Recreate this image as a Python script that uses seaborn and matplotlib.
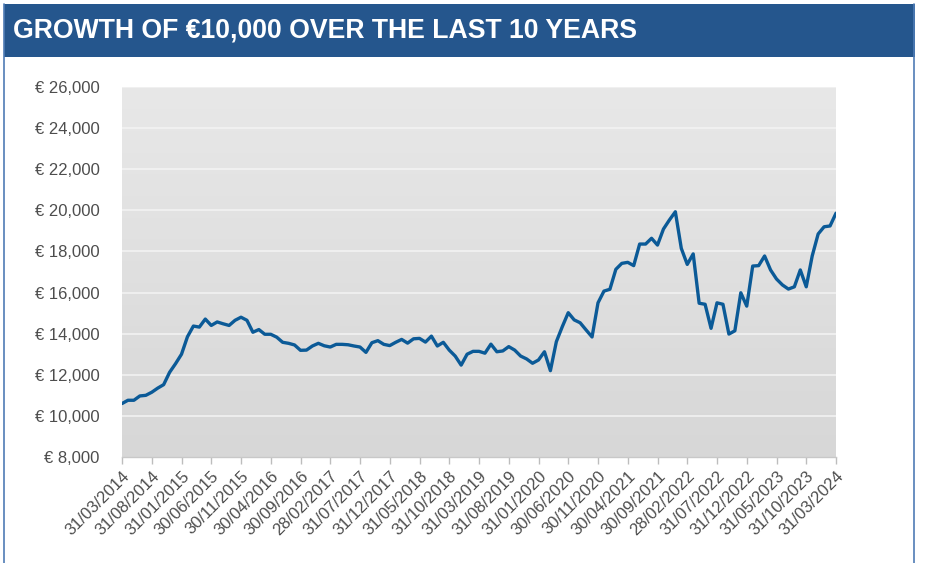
import numpy as np
import pandas as pd
import matplotlib
matplotlib.use("Agg")
import matplotlib.pyplot as plt
import seaborn as sns
from matplotlib.patches import Rectangle
from matplotlib.lines import Line2D
from matplotlib.colors import LinearSegmentedColormap

# ---- data ----
values = [
    10600, 10760, 10760, 10970, 11000, 11150, 11350, 11520, 12120, 12540,
    13000, 13850, 14370, 14320, 14710, 14400, 14570, 14480, 14400, 14650,
    14800, 14650, 14070, 14200, 13970, 13970, 13830, 13580, 13530, 13450,
    13190, 13200, 13400, 13530, 13410, 13350, 13480, 13480, 13460, 13400,
    13350, 13090, 13560, 13660, 13480, 13420, 13580, 13720, 13540, 13750,
    13770, 13590, 13880, 13400, 13580, 13200, 12910, 12470, 13000, 13140,
    13140, 13050, 13490, 13120, 13160, 13370, 13200, 12910, 12770, 12560,
    12720, 13120, 12200, 13610, 14340, 15020, 14670, 14530, 14180, 13840,
    15500, 16070, 16160, 17130, 17420, 17470, 17310, 18360, 18360, 18640,
    18310, 19090, 19530, 19930, 18150, 17370, 17880, 15480, 15430, 14260,
    15500, 15430, 13980, 14140, 15990, 15340, 17290, 17310, 17780, 17100,
    16660, 16370, 16170, 16280, 17100, 16280, 17780, 18850, 19200, 19240,
    19860,
]
tick_labels = [
    "31/03/2014", "31/08/2014", "31/01/2015", "30/06/2015", "30/11/2015",
    "30/04/2016", "30/09/2016", "28/02/2017", "31/07/2017", "31/12/2017",
    "31/05/2018", "31/10/2018", "31/03/2019", "31/08/2019", "31/01/2020",
    "30/06/2020", "30/11/2020", "30/04/2021", "30/09/2021", "28/02/2022",
    "31/07/2022", "31/12/2022", "31/05/2023", "31/10/2023", "31/03/2024",
]
y_ticks = [8000, 10000, 12000, 14000, 16000, 18000, 20000, 22000, 24000, 26000]
title = "GROWTH OF €10,000 OVER THE LAST 10 YEARS"

df = pd.DataFrame({"month": np.arange(len(values)), "value": values})

sns.set_theme(style="white")
plt.rcParams["font.family"] = ["Liberation Sans", "DejaVu Sans"]

W, H = 925, 563
fig = plt.figure(figsize=(W / 100, H / 100), dpi=100)
fig.patch.set_facecolor("white")

def fx(px):
    return px / W

def fy(py):
    return 1 - py / H

# frame & title bar
border_col = "#4f7cb5"
fig.add_artist(Line2D([fx(4), fx(4)], [fy(4), 0], color=border_col, lw=1.2))
fig.add_artist(Line2D([fx(914), fx(914)], [fy(4), 0], color=border_col, lw=1.2))
fig.add_artist(Rectangle((fx(3.5), fy(57)), fx(914.5) - fx(3.5), fy(4) - fy(57),
                         transform=fig.transFigure, facecolor="#25568d",
                         edgecolor="none"))
fig.text(fx(13), fy(30), title, color="white", fontsize=19.2, fontweight="bold",
         va="center", ha="left")

# axes
left, right, top, bottom = 122, 836, 87, 457
ax = fig.add_axes([fx(left), fy(bottom), fx(right) - fx(left), fy(top) - fy(bottom)])
ax.set_facecolor("none")

grad = np.linspace(0, 1, 256).reshape(-1, 1)
cmap = LinearSegmentedColormap.from_list("bg", ["#e8e8e8", "#d7d7d7"])
ax.imshow(grad, extent=[0, 1, 0, 1], origin="upper", transform=ax.transAxes,
          aspect="auto", cmap=cmap, zorder=0, interpolation="bicubic")

for v in y_ticks[1:]:
    ax.axhline(v, color="#f4f4f4", lw=1.1, zorder=1)

sns.lineplot(data=df, x="month", y="value", ax=ax, color="#0b5a97", lw=2.4,
             zorder=3)

ax.set_xlim(0, len(values) - 1)
ax.set_ylim(y_ticks[0], y_ticks[-1])
ax.set_yticks(y_ticks)
ax.set_yticklabels([f"€ {v:,}" for v in y_ticks])
ax.set_xticks(np.arange(0, len(values), 5))
ax.set_xticklabels(tick_labels, rotation=45, ha="right", rotation_mode="anchor")
ax.set_xlabel("")
ax.set_ylabel("")

for s in ["left", "right", "top"]:
    ax.spines[s].set_visible(False)
ax.spines["bottom"].set_color("#c8c8c8")
ax.spines["bottom"].set_linewidth(1.0)

ax.tick_params(axis="x", which="both", bottom=True, length=5, width=1,
               color="#bdbdbd", labelsize=12, labelcolor="#4d4d4d", pad=3)
ax.tick_params(axis="y", left=False, labelsize=12, labelcolor="#4d4d4d", pad=10)

fig.savefig("out.png", dpi=100)
